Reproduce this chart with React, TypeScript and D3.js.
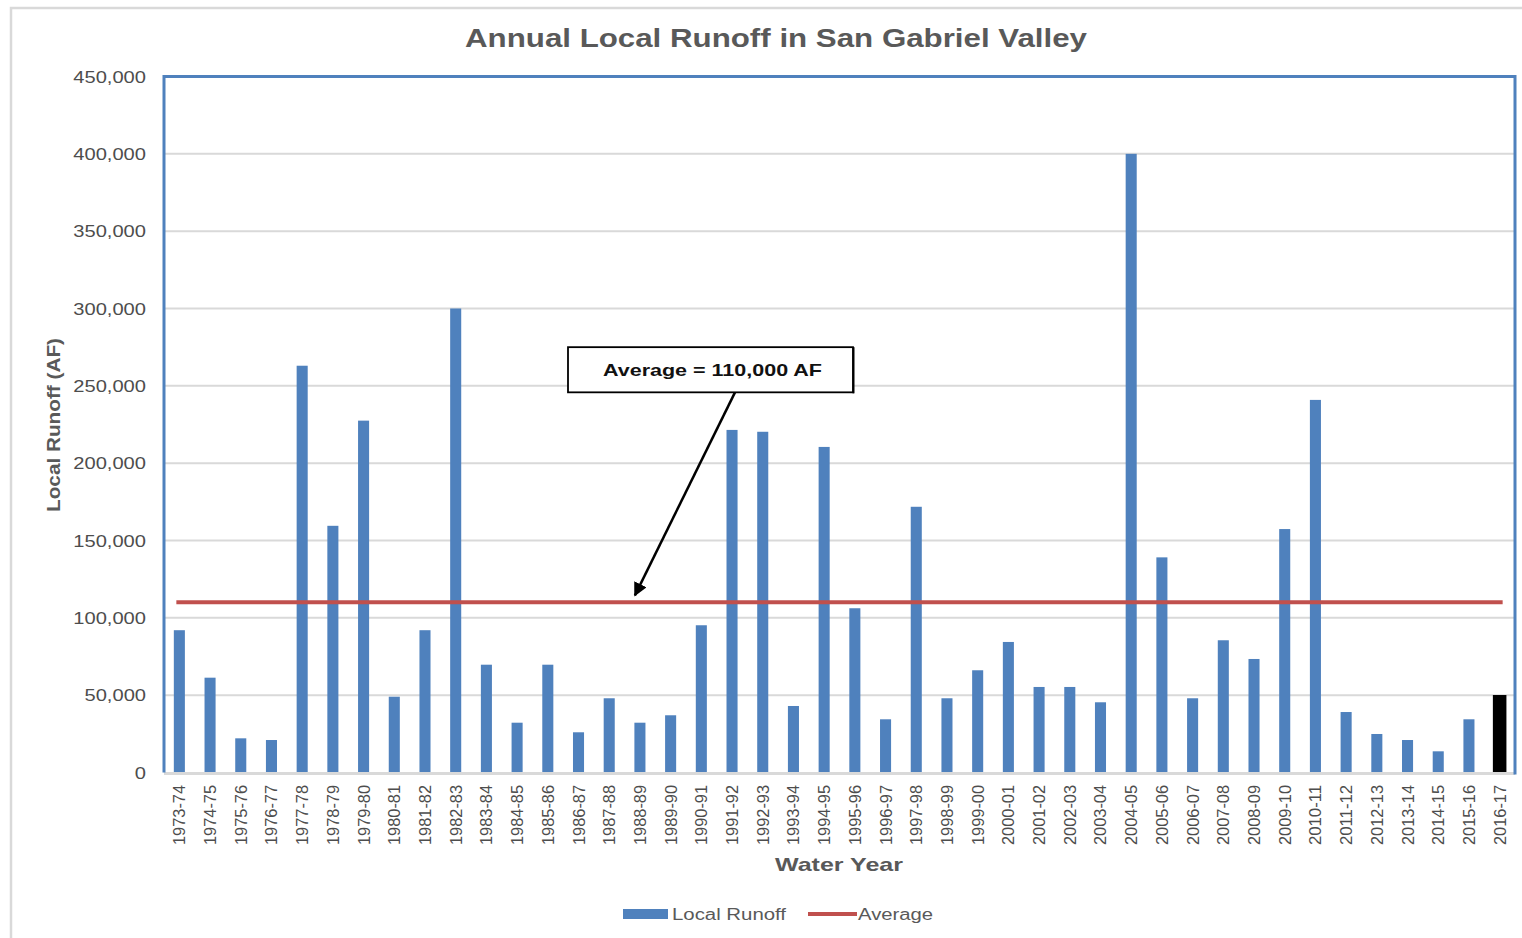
import React from "react";
import * as d3 from "d3";

const years: string[] = [
  "1973-74","1974-75","1975-76","1976-77","1977-78","1978-79","1979-80","1980-81","1981-82","1982-83",
  "1983-84","1984-85","1985-86","1986-87","1987-88","1988-89","1989-90","1990-91","1991-92","1992-93",
  "1993-94","1994-95","1995-96","1996-97","1997-98","1998-99","1999-00","2000-01","2001-02","2002-03",
  "2003-04","2004-05","2005-06","2006-07","2007-08","2008-09","2009-10","2010-11","2011-12","2012-13",
  "2013-14","2014-15","2015-16","2016-17",
];
const runoff: number[] = [
  92000, 61300, 22100, 21000, 263000, 159500, 227500, 49000, 92000, 300000,
  69700, 32200, 69700, 26000, 48000, 32200, 37000, 95200, 221500, 220300,
  43000, 210500, 106200, 34400, 171800, 48000, 66100, 84400, 55300, 55300,
  45400, 400000, 139100, 48000, 85500, 73400, 157400, 240900, 39100, 24900,
  21000, 13700, 34400, 50100,
];
const averageValue = 110000;
const yTicks: number[] = [0, 50000, 100000, 150000, 200000, 250000, 300000, 350000, 400000, 450000];
const highlightYear = "2016-17";

const W = 1522, H = 938;
const plot = { left: 164, right: 1515, top: 76.5, bottom: 772.5 };
const gray = "#595959";
const blue = "#4F81BD";
const red = "#C0504D";
const font = "'Liberation Sans', Arial, sans-serif";

export default function App() {
  const x = d3.scaleBand<string>().domain(years).range([plot.left, plot.right]).paddingInner(0.64).paddingOuter(0.32);
  const y = d3.scaleLinear().domain([0, 450000]).range([plot.bottom, plot.top]);
  const fmt = d3.format(",");
  const bw = x.bandwidth();
  const center = (c: string) => (x(c) as number) + bw / 2;
  const yAvg = y(averageValue);

  // annotation
  const tipX = center("1988-89") - 5;
  const tipY = yAvg - 7;
  const boxX0 = 568, boxX1 = 853;
  const boxY0 = y(275000), boxY1 = y(245800);
  const arrowStartX = 735;

  return (
    <svg width={W} height={H} style={{ position: "absolute", left: 0, top: 0, background: "#fff" }} fontFamily={font}>
      <defs>
        <marker id="ah" viewBox="0 0 10 10" refX="9" refY="5" markerWidth="5.5" markerHeight="5.5" orient="auto">
          <path d="M0,0 L10,5 L0,10 z" fill="#000" />
        </marker>
      </defs>
      <rect x={11} y={8} width={W} height={H} fill="#fff" stroke="#D9D9D9" strokeWidth={2.5} />

      <text x={776} y={47} textAnchor="middle" fontWeight="bold" fontSize={25} fill={gray} textLength={622} lengthAdjust="spacingAndGlyphs">
        Annual Local Runoff in San Gabriel Valley
      </text>

      {/* gridlines */}
      {yTicks.filter((t) => t > 0 && t < 450000).map((t) => (
        <line key={t} x1={plot.left} x2={plot.right} y1={y(t)} y2={y(t)} stroke="#D9D9D9" strokeWidth={2} />
      ))}

      {/* y tick labels */}
      {yTicks.map((t) => (
        <text key={t} transform={`translate(146,${y(t) + 6}) scale(1.22,1)`} textAnchor="end" fontSize={16.5} fill="#4d4d4d">
          {fmt(t)}
        </text>
      ))}

      {/* bars */}
      {years.map((c, i) => {
        const hi = c === highlightYear;
        const w = hi ? bw + 2.5 : bw;
        return (
          <rect key={c} x={center(c) - w / 2} y={y(runoff[i])} width={w} height={plot.bottom - y(runoff[i])} fill={hi ? "#000" : blue} />
        );
      })}

      {/* bottom axis line */}
      <line x1={plot.left} x2={plot.right} y1={plot.bottom + 1} y2={plot.bottom + 1} stroke="#D9D9D9" strokeWidth={3} />

      {/* plot frame (left, top, right) */}
      <path d={`M${plot.left},${plot.bottom}V${plot.top}H${plot.right}V${plot.bottom + 2}`} fill="none" stroke={blue} strokeWidth={3} />

      {/* average line */}
      <line x1={center(years[0]) - 3} x2={center(years[years.length - 1]) + 3} y1={yAvg} y2={yAvg} stroke={red} strokeWidth={4} />

      {/* x tick labels */}
      {years.map((c) => (
        <text key={c} transform={`translate(${center(c) + 6},785) rotate(-90)`} textAnchor="end" fontSize={16} fill="#4d4d4d" textLength={60} lengthAdjust="spacingAndGlyphs">
          {c}
        </text>
      ))}

      {/* axis titles */}
      <text x={839} y={871} textAnchor="middle" fontWeight="bold" fontSize={19} fill={gray} textLength={128} lengthAdjust="spacingAndGlyphs">
        Water Year
      </text>
      <text transform={`translate(60,425) rotate(-90)`} textAnchor="middle" fontWeight="bold" fontSize={19} fill={gray} textLength={174} lengthAdjust="spacingAndGlyphs">
        Local Runoff (AF)
      </text>

      {/* annotation */}
      <line x1={arrowStartX} y1={boxY1} x2={tipX} y2={tipY} stroke="#000" strokeWidth={2.5} markerEnd="url(#ah)" />
      <rect x={boxX0} y={boxY0} width={boxX1 - boxX0} height={boxY1 - boxY0} fill="#fff" stroke="#000" strokeWidth={1.8} />
      <line x1={boxX1 + 0.5} x2={boxX1 + 0.5} y1={boxY0} y2={boxY1 + 1} stroke="#000" strokeWidth={2} />
      <text x={(boxX0 + boxX1) / 2 + 2} y={(boxY0 + boxY1) / 2 + 6} textAnchor="middle" fontWeight="bold" fontSize={17} fill="#111" textLength={219} lengthAdjust="spacingAndGlyphs">
        Average = 110,000 AF
      </text>

      {/* legend */}
      <rect x={623} y={909} width={45} height={10} fill={blue} />
      <text x={672} y={920} fontSize={16} fill={gray} textLength={114} lengthAdjust="spacingAndGlyphs">Local Runoff</text>
      <line x1={808} x2={857} y1={914} y2={914} stroke={red} strokeWidth={4} />
      <text x={858} y={920} fontSize={16} fill={gray} textLength={75} lengthAdjust="spacingAndGlyphs">Average</text>
    </svg>
  );
}
